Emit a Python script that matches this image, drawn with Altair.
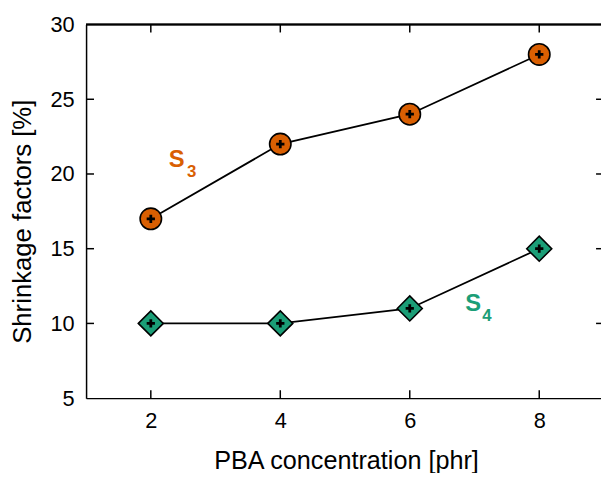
import altair as alt
import pandas as pd

conc = [2, 4, 6, 8]
s3 = [17, 22, 24, 28]
s4 = [10, 10, 11, 15]
xticks = [2, 4, 6, 8]
yticks = [10, 15, 20, 25]
ylabels = [5, 10, 15, 20, 25, 30]

ORANGE = "#d95f02"
GREEN = "#1b9e77"
FONT = "Liberation Sans"
W, H = 521, 378

df3 = pd.DataFrame({"x": conc, "y": s3, "s": "S3"})
df4 = pd.DataFrame({"x": conc, "y": s4, "s": "S4"})
df = pd.concat([df3, df4])

xs = alt.Scale(domain=[1, 8.954], nice=False, zero=False)
ys = alt.Scale(domain=[5, 30], nice=False, zero=False)

lines = alt.Chart(df).mark_line(color="black", strokeWidth=1.8).encode(
    x=alt.X("x:Q", scale=xs, title="PBA concentration [phr]",
            axis=alt.Axis(values=xticks, format="d", tickSize=0, labelPadding=13,
                          titleX=263, titleY=63, titleBaseline="middle", titleAlign="center",
                          domainColor="black", domainWidth=1.5, labelFontSize=22,
                          titleFontSize=25.5, labelColor="black", titleColor="black",
                          titleFontWeight="normal", labelFont=FONT, titleFont=FONT)),
    y=alt.Y("y:Q", scale=ys, title="Shrinkage factors [%]",
            axis=alt.Axis(values=ylabels, format="d", tickSize=0, labelPadding=12,
                          titleX=-64, titleY=199, titleBaseline="middle", titleAlign="center",
                          titleAngle=270,
                          domainColor="black", domainWidth=1.5, labelFontSize=22,
                          titleFontSize=26, labelColor="black", titleColor="black",
                          titleFontWeight="normal", labelFont=FONT, titleFont=FONT)),
    detail="s:N",
)

pts3 = alt.Chart(df3).mark_point(shape="circle", filled=True, fill=ORANGE, stroke="black",
                                 strokeWidth=1.6, size=470, opacity=1).encode(
    x=alt.X("x:Q", scale=xs), y=alt.Y("y:Q", scale=ys))
pts4 = alt.Chart(df4).mark_point(shape="diamond", filled=True, fill=GREEN, stroke="black",
                                 strokeWidth=1.6, size=640, opacity=1).encode(
    x=alt.X("x:Q", scale=xs), y=alt.Y("y:Q", scale=ys))
plus = alt.Chart(df).mark_point(shape="M-1,0L1,0M0,-1L0,1", stroke="black", strokeWidth=2.8,
                                size=70, opacity=1).encode(
    x=alt.X("x:Q", scale=xs), y=alt.Y("y:Q", scale=ys))

xt = pd.DataFrame({"t": xticks})
yt = pd.DataFrame({"t": yticks})
top = alt.Chart(xt).mark_rule(color="black", strokeWidth=1.5).encode(
    x=alt.value(0), x2=alt.value(W), y=alt.value(0))
tb = alt.Chart(xt).mark_rule(color="black", strokeWidth=1.5).encode(
    x=alt.X("t:Q", scale=xs), y=alt.value(H), y2=alt.value(H - 8))
tt = alt.Chart(xt).mark_rule(color="black", strokeWidth=1.5).encode(
    x=alt.X("t:Q", scale=xs), y=alt.value(0), y2=alt.value(8))
tl = alt.Chart(yt).mark_rule(color="black", strokeWidth=1.5).encode(
    y=alt.Y("t:Q", scale=ys), x=alt.value(0), x2=alt.value(8))
tr = alt.Chart(yt).mark_rule(color="black", strokeWidth=1.5).encode(
    y=alt.Y("t:Q", scale=ys), x=alt.value(W), x2=alt.value(W - 5))

lab_main = pd.DataFrame({"x": [2.40, 6.98], "y": [20.9, 11.28], "t": ["S", "S"], "c": [ORANGE, GREEN]})
lab_sub = pd.DataFrame({"x": [2.63, 7.19], "y": [20.1, 10.49], "t": ["3", "4"], "c": [ORANGE, GREEN]})
tmain = alt.Chart(lab_main).mark_text(font=FONT, fontSize=24, fontWeight="bold",
                                      baseline="middle", align="center").encode(
    x=alt.X("x:Q", scale=xs), y=alt.Y("y:Q", scale=ys), text="t:N",
    color=alt.Color("c:N", scale=None))
tsub = alt.Chart(lab_sub).mark_text(font=FONT, fontSize=17, fontWeight="bold",
                                    baseline="middle", align="center").encode(
    x=alt.X("x:Q", scale=xs), y=alt.Y("y:Q", scale=ys), text="t:N",
    color=alt.Color("c:N", scale=None))

chart = alt.layer(lines, top, tb, tt, tl, tr, pts3, pts4, plus, tmain, tsub).properties(
    width=W, height=H,
    autosize=alt.AutoSizeParams(type="none"),
    padding={"left": 79, "top": 14, "right": 0, "bottom": 73},
).configure_view(stroke=None).configure_axis(grid=False)

chart.save("out.html", embed_options={"renderer": "svg", "actions": False})
